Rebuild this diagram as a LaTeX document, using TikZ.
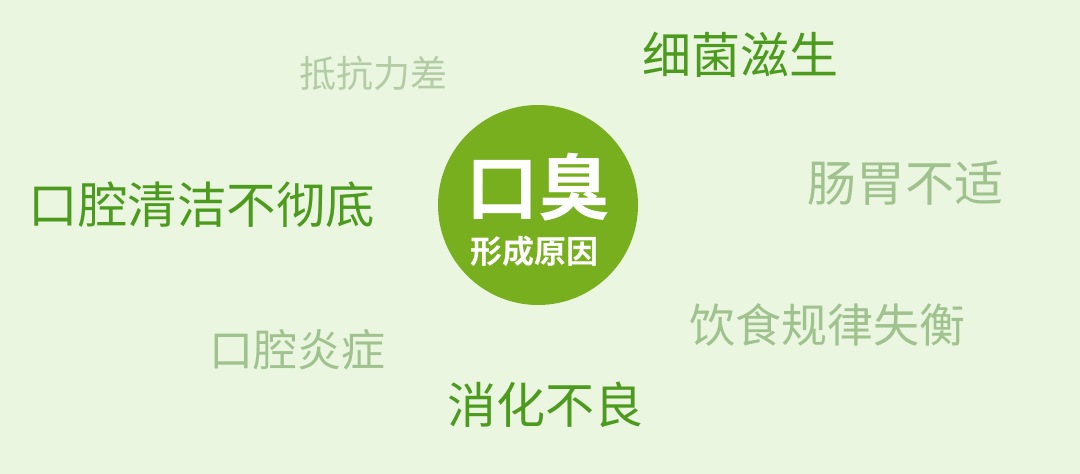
\documentclass[tikz,border=0pt]{standalone}
\usepackage{fontspec}
\setmainfont{Liberation Sans}
\newfontfamily\cjk{Noto Sans CJK SC}
\newfontfamily\cjkbold{Noto Sans CJK SC Bold}
\usetikzlibrary{positioning}
\definecolor{PageBack}{HTML}{EAF6DF}
\definecolor{CoreGreen}{HTML}{78AF1F}
\definecolor{DeepWord}{HTML}{4C9A1E}
\definecolor{PaleWord}{HTML}{A0C28E}
\definecolor{FaintWord}{HTML}{B3CCA6}
\begin{document}
\begin{tikzpicture}[x=1pt, y=-1pt,
    word/.style={inner sep=0pt, font=\cjk},
    deepword/.style={word, text=DeepWord},
    paleword/.style={word, text=PaleWord}]
				\fill[PageBack] (0,0) rectangle (1080,474);
				\useasboundingbox (0,0) rectangle (1080,474);
				% 中心圆
				\fill[CoreGreen] (538,205) circle (100);
				\node[word, text=white, font=\cjkbold\fontsize{72}{72}\selectfont] (title) at (538,187) {口臭};
				\node[word, text=white, font=\cjkbold\fontsize{32}{32}\selectfont] (subtitle) at (534,251) {形成原因};
				% 周围原因
				\node[paleword, text=FaintWord, font=\cjk\fontsize{37}{37}\selectfont] (resist) at (373,73) {抵抗力差};
				\node[deepword, font=\cjk\fontsize{49}{49}\selectfont] (bacteria) at (740,55) {细菌滋生};
				\node[deepword, font=\cjk\fontsize{49.5}{49.5}\selectfont] (clean) at (202,205) {口腔清洁不彻底};
				\node[paleword, font=\cjk\fontsize{49}{49}\selectfont] (stomach) at (905,183) {肠胃不适};
				\node[paleword, font=\cjk\fontsize{46}{46}\selectfont] (diet) at (827,325) {饮食规律失衡};
				\node[paleword, font=\cjk\fontsize{44}{44}\selectfont] (inflame) at (297,350) {口腔炎症};
				\node[deepword, font=\cjk\fontsize{49}{49}\selectfont] (digest) at (545,405) {消化不良};
			\end{tikzpicture}
\end{document}
